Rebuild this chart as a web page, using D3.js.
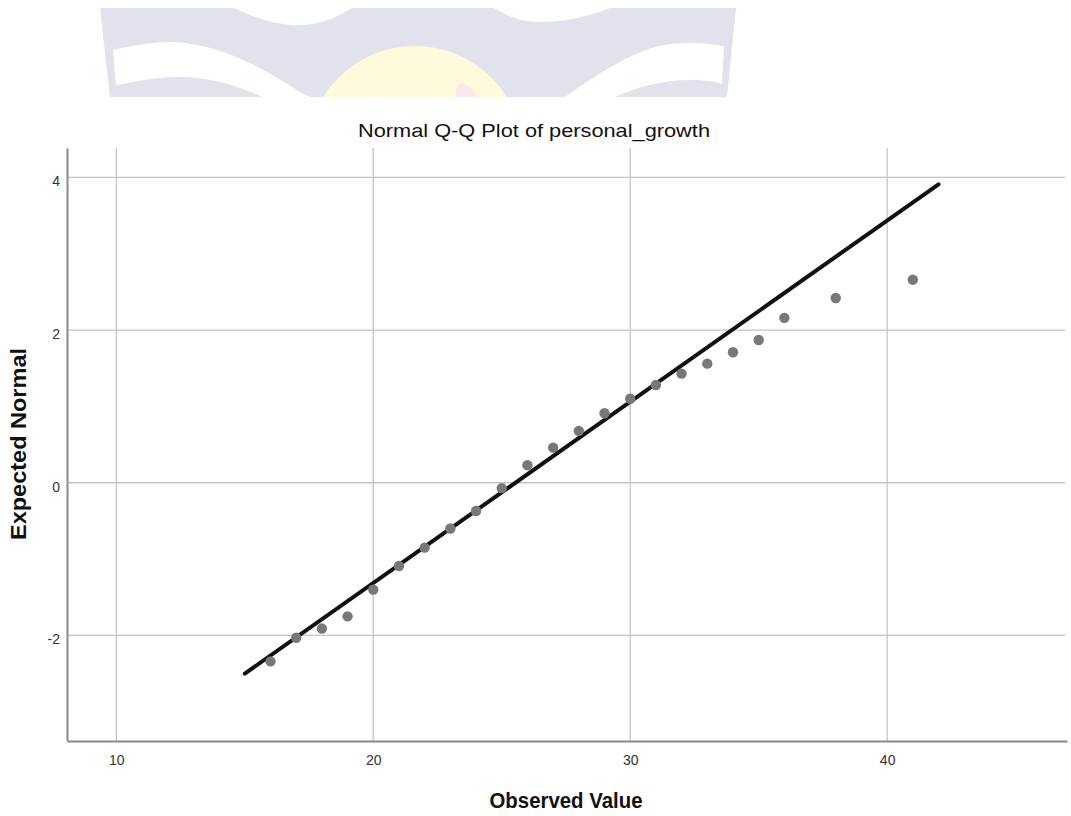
<!DOCTYPE html>
<html>
<head>
<meta charset="utf-8">
<script src="https://cdn.jsdelivr.net/npm/d3@7"></script>
<style>
  html, body { margin: 0; padding: 0; background: #fff; }
  svg { display: block; }
  text { font-family: "Liberation Sans", Arial, sans-serif; }
</style>
</head>
<body>
<svg id="chart" width="1071" height="816"></svg>
<script>
// Observed values of personal_growth and their expected normal scores
const observed = [16, 17, 18, 19, 20, 21, 22, 23, 24, 25, 26, 27, 28, 29, 30, 31, 32, 33, 34, 35, 36, 38, 41];
const expectedNormal = [-2.34, -2.03, -1.91, -1.75, -1.40, -1.09, -0.85, -0.60, -0.37, -0.07, 0.23, 0.46,
                        0.68, 0.91, 1.10, 1.28, 1.43, 1.56, 1.71, 1.87, 2.16, 2.42, 2.66];

// Reference line endpoints (observed value, expected normal)
const refLineX = [15, 42];
const refLineY = [-2.50, 3.91];

const xTicks = [10, 20, 30, 40];
const yTicks = [-2, 0, 2, 4];

const titleText = "Normal Q-Q Plot of personal_growth";
const xLabel = "Observed Value";
const yLabel = "Expected Normal";

const svg = d3.select("#chart");

// ---- faint logo in the page header ----
const logo = svg.append("g");
logo.append("clipPath").attr("id", "logoClip")
  .append("rect").attr("x", 0).attr("y", 0).attr("width", 1071).attr("height", 97);
const lg = logo.append("g").attr("clip-path", "url(#logoClip)");
lg.append("path")
  .attr("d", "M100,8 L736,8 L727,97 L110,97 Z")
  .attr("fill", "#e0e2ec");
// scalloped top edge
lg.append("path")
  .attr("d", "M234,8 C248,14 262,22 290,25 C318,27 335,18 352,8 Z")
  .attr("fill", "#fff");
lg.append("path")
  .attr("d", "M494,8 C508,16 520,22 540,22 C565,22 590,16 610,8 Z")
  .attr("fill", "#fff");
// white wings
lg.append("path")
  .attr("d", "M113,50 C140,44 165,40 185,43 C225,48 260,66 300,92 L310,97 L262,97 C235,84 205,76 175,77 C150,78 130,82 116,86 Z")
  .attr("fill", "#fff");
lg.append("path")
  .attr("d", "M724,46 C700,42 680,41 655,47 C630,54 600,72 565,97 L615,97 C640,86 665,80 690,80 C705,80 715,82 722,84 Z")
  .attr("fill", "#fff");
// yellow crest
lg.append("ellipse")
  .attr("cx", 415).attr("cy", 156).attr("rx", 109).attr("ry", 110)
  .attr("fill", "#fffadb");
lg.append("ellipse")
  .attr("cx", 468).attr("cy", 102).attr("rx", 10).attr("ry", 20)
  .attr("transform", "rotate(-25 468 102)")
  .attr("fill", "#fbe9ea");

// ---- plot area ----
const plotLeft = 67, plotRight = 1067, plotTop = 148, plotBottom = 741;

const x = d3.scaleLinear().domain([8.08, 47.0]).range([plotLeft, plotRight]);
const y = d3.scaleLinear().domain([-3.383, 4.385]).range([plotBottom, plotTop]);

// grid lines
const grid = svg.append("g");
grid.selectAll("line.vg").data(xTicks).join("line")
  .attr("class", "vg")
  .attr("x1", d => x(d)).attr("x2", d => x(d))
  .attr("y1", plotTop).attr("y2", plotBottom)
  .attr("stroke", "#c4c4c4").attr("stroke-width", 1.3);
grid.selectAll("line.hg").data(yTicks).join("line")
  .attr("class", "hg")
  .attr("x1", plotLeft).attr("x2", plotRight - 2)
  .attr("y1", d => y(d)).attr("y2", d => y(d))
  .attr("stroke", "#c4c4c4").attr("stroke-width", 1.3);

// axes (plain hyphen for negative labels)
const tickFmt = d => String(d);
const xAxis = svg.append("g")
  .attr("transform", `translate(0,${plotBottom})`)
  .call(d3.axisBottom(x).tickValues(xTicks).tickSize(0).tickPadding(14).tickFormat(tickFmt));
const yAxis = svg.append("g")
  .attr("transform", `translate(${plotLeft},0)`)
  .call(d3.axisLeft(y).tickValues(yTicks).tickSize(0).tickPadding(7).tickFormat(tickFmt));

[xAxis, yAxis].forEach(a => {
  a.select(".domain").attr("stroke", "#8a8a8a").attr("stroke-width", 2);
  a.selectAll("text")
    .attr("font-family", "'Liberation Sans', Arial, sans-serif")
    .attr("font-size", 14)
    .attr("fill", "#333");
});
yAxis.selectAll("text").attr("dy", "0.6em");

// reference line
svg.append("line")
  .attr("x1", x(refLineX[0])).attr("y1", y(refLineY[0]))
  .attr("x2", x(refLineX[1])).attr("y2", y(refLineY[1]))
  .attr("stroke", "#111").attr("stroke-width", 4)
  .attr("stroke-linecap", "round");

// observed points
svg.append("g").selectAll("circle")
  .data(observed.map((v, i) => ({ v, z: expectedNormal[i] })))
  .join("circle")
  .attr("cx", d => x(d.v))
  .attr("cy", d => y(d.z))
  .attr("r", 5.2)
  .attr("fill", "#787878");

// title and axis labels
svg.append("text")
  .attr("x", 534).attr("y", 137)
  .attr("text-anchor", "middle")
  .attr("font-size", 18.5)
  .attr("textLength", 352).attr("lengthAdjust", "spacingAndGlyphs")
  .attr("fill", "#111")
  .text(titleText);

svg.append("text")
  .attr("x", 566).attr("y", 808)
  .attr("text-anchor", "middle")
  .attr("font-size", 22).attr("font-weight", "bold")
  .attr("textLength", 153).attr("lengthAdjust", "spacingAndGlyphs")
  .attr("fill", "#111")
  .text(xLabel);

svg.append("text")
  .attr("transform", "translate(26,444) rotate(-90)")
  .attr("text-anchor", "middle")
  .attr("font-size", 21.5).attr("font-weight", "bold")
  .attr("textLength", 192).attr("lengthAdjust", "spacingAndGlyphs")
  .attr("fill", "#111")
  .text(yLabel);
</script>
</body>
</html>
